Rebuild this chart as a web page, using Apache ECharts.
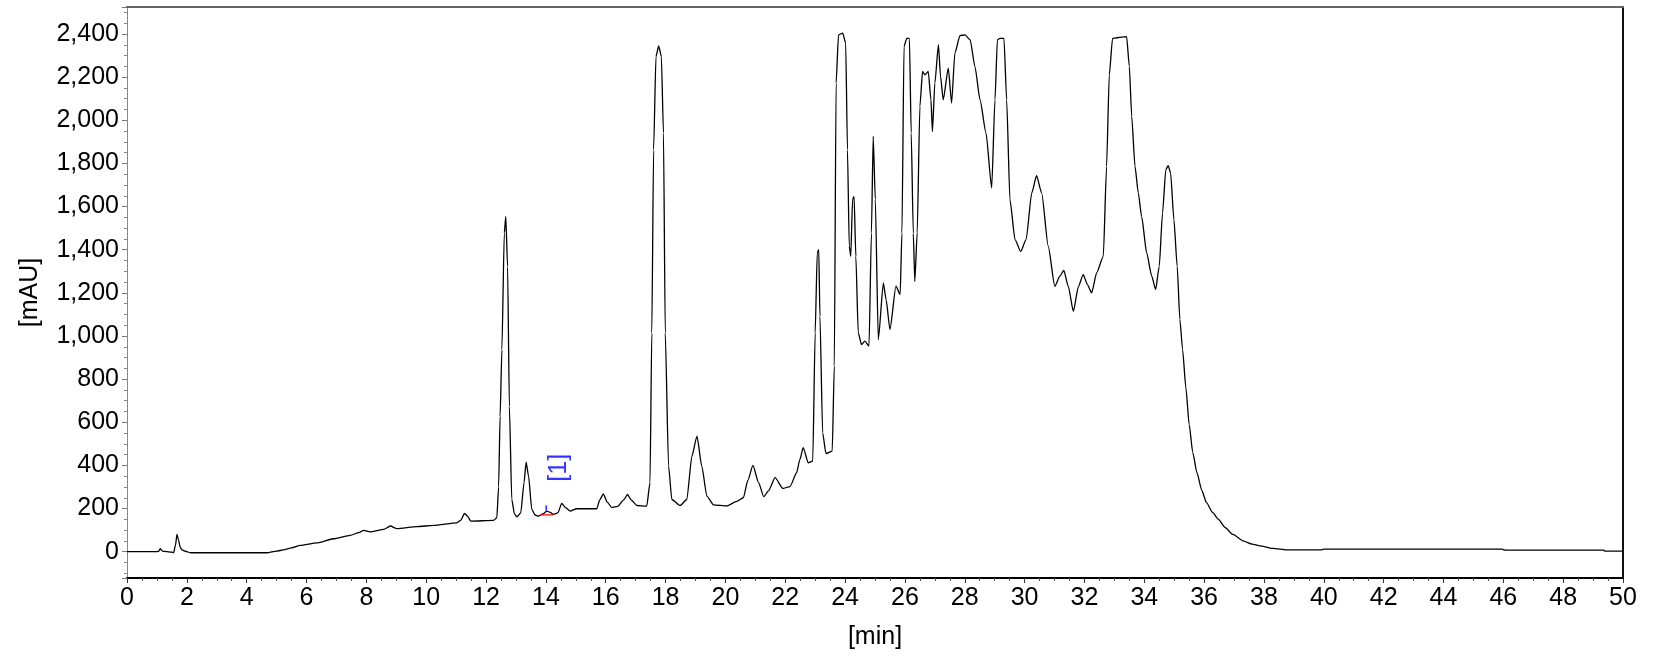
<!DOCTYPE html>
<html>
<head>
<meta charset="utf-8">
<script src="https://cdn.jsdelivr.net/npm/echarts@6/dist/echarts.min.js"></script>
<style>
html,body{margin:0;padding:0;background:#fff;}
#chart{width:1663px;height:660px;}
</style>
</head>
<body>
<div id="chart"></div>
<script>
// retention time [min]
const times = [0,0.5,1.0,1.06,1.11,1.18,1.5,1.56,1.62,1.67,1.72,1.78,1.84,1.95,2.12,3.0,4.0,4.68,5.0,5.23,5.5,5.79,6.35,6.9,7.46,7.75,7.91,8.13,8.58,8.8,9.02,9.69,10.24,11.03,11.15,11.28,11.38,11.49,12.25,12.36,12.42,12.47,12.53,12.61,12.66,12.72,12.78,12.86,12.95,13.03,13.16,13.27,13.34,13.42,13.53,13.64,13.75,13.9,14.03,14.15,14.25,14.4,14.53,14.65,14.81,15.03,15.7,15.8,15.92,16.05,16.2,16.4,16.6,16.73,16.85,17.04,17.37,17.48,17.54,17.6,17.68,17.77,17.86,17.93,17.99,18.1,18.21,18.49,18.71,18.88,19.05,19.21,19.38,19.6,20.05,20.38,20.6,20.75,20.92,21.11,21.28,21.44,21.66,21.92,22.16,22.38,22.49,22.6,22.77,22.92,23.0,23.07,23.12,23.16,23.25,23.36,23.57,23.64,23.7,23.78,23.92,24.02,24.08,24.14,24.19,24.25,24.3,24.36,24.44,24.55,24.66,24.8,24.88,24.94,25.01,25.11,25.28,25.37,25.5,25.7,25.84,25.9,25.97,26.06,26.15,26.21,26.28,26.33,26.41,26.5,26.59,26.67,26.78,26.87,26.92,27.0,27.12,27.19,27.28,27.45,27.56,27.67,27.84,28.01,28.18,28.34,28.51,28.71,28.9,29.01,29.09,29.18,29.31,29.4,29.51,29.68,29.87,30.05,30.24,30.4,30.57,30.79,31.01,31.18,31.31,31.46,31.63,31.8,31.96,32.1,32.24,32.41,32.63,32.74,32.83,32.94,33.41,33.5,33.58,33.69,33.8,33.91,34.08,34.25,34.38,34.5,34.61,34.72,34.8,34.88,34.99,35.1,35.19,35.28,35.39,35.5,35.62,35.76,35.92,36.08,36.28,36.48,36.7,36.96,37.32,37.6,37.92,38.3,38.76,39.9,40.0,45.96,46.05,49.35,49.4,50];
// absorbance [mAU]
const signal = [0,0,0,2,14,3,-2,-5,30,80,55,20,8,2,-5,-5,-5,-5,3,8,18,29,41,60,76,88,99,92,103,119,107,116,122,134,145,177,165,142,145,157,300,628,937,1477,1554,1322,674,242,175,162,180,320,415,351,196,170,165,175,188,182,173,180,224,205,188,199,199,240,268,230,205,210,240,265,240,214,211,320,1014,1863,2296,2345,2296,1941,1014,397,242,214,242,443,536,397,258,217,212,233,250,330,400,320,255,282,343,293,302,366,428,482,412,420,1014,1385,1400,1091,551,455,466,860,2172,2396,2404,2358,1863,1416,1369,1632,1647,1369,1014,960,976,953,1477,1925,1632,983,1246,1169,1030,1231,1192,1477,2342,2380,2380,1941,1477,1253,1477,2064,2226,2210,2226,2095,1948,2172,2350,2203,2095,2242,2080,2311,2392,2396,2373,2249,2095,1941,1686,2095,2373,2380,2380,2095,1632,1447,1392,1447,1663,1743,1663,1416,1230,1277,1304,1230,1114,1230,1284,1238,1200,1293,1369,1786,2210,2380,2388,2249,2018,1786,1663,1555,1385,1277,1215,1323,1570,1771,1790,1755,1539,1323,1076,937,760,590,460,366,285,227,182,150,112,80,49,35,26,15,8,8,12,12,7,7,3,3];
// integration baseline of peak [1] (red)
const baselineTimes = [13.81, 14.25];
const baselineValues = [171, 171];
// peak marker of peak [1] (blue)
const markerTimes = [14.01, 14.01];
const markerValues = [190, 214];
// peak label
const peakLabelText = ['[1]'];
const peakLabelTime = [14.43];
const peakLabelValue = [389];
// axis ticks
const xTickInterval = 2;
const yTickStep = 200;

const zip = (a, b) => a.map((x, i) => [x, b[i]]);
const FONT = 'Liberation Sans, Arial, sans-serif';

const chart = echarts.init(document.getElementById('chart'), null, {renderer: 'canvas'});
chart.setOption({
  animation: false,
  backgroundColor: '#ffffff',
  grid: {left: 127, right: 40, top: 7, bottom: 82},
  xAxis: [{
    type: 'value', min: 0, max: 50, interval: xTickInterval,
    name: '[min]', nameLocation: 'middle', nameGap: 47,
    nameTextStyle: {fontFamily: FONT, fontSize: 25, color: '#000'},
    axisLine: {show: true, onZero: false, lineStyle: {color: '#000', width: 2}},
    axisTick: {show: true, length: 5, lineStyle: {color: '#333', width: 1}},
    minorTick: {show: true, splitNumber: 4, length: 3, lineStyle: {color: '#555', width: 1}},
    axisLabel: {fontFamily: FONT, fontSize: 25, color: '#000', margin: 8},
    splitLine: {show: false}
  }, {
    type: 'value', min: 0, max: 50, position: 'top',
    axisLine: {show: true, onZero: false, lineStyle: {color: '#666', width: 2}},
    axisTick: {show: false}, axisLabel: {show: false}, splitLine: {show: false}
  }],
  yAxis: [{
    type: 'value', min: -122, max: 2525, splitNumber: 13,
    name: '[mAU]', nameLocation: 'middle', nameGap: 84, nameRotate: 90,
    nameTextStyle: {fontFamily: FONT, fontSize: 25, color: '#000'},
    axisLine: {show: true, onZero: false, lineStyle: {color: '#888', width: 1}},
    axisTick: {show: true, length: 5, lineStyle: {color: '#777', width: 1}},
    minorTick: {show: true, splitNumber: 4, length: 3, lineStyle: {color: '#888', width: 1}},
    axisLabel: {
      fontFamily: FONT, fontSize: 25, color: '#000', margin: 8,
      formatter: v => (Math.abs(v % yTickStep) < 1e-6 ? v.toLocaleString('en-US') : '')
    },
    splitLine: {show: false}
  }, {
    type: 'value', min: -122, max: 2525, position: 'right',
    axisLine: {show: true, onZero: false, lineStyle: {color: '#111', width: 2}},
    axisTick: {show: false}, axisLabel: {show: false}, splitLine: {show: false}
  }],
  series: [{
    type: 'line', data: zip(times, signal), showSymbol: false, symbol: 'none',
    smooth: 0.2, smoothMonotone: 'x',
    lineStyle: {color: '#000', width: 1.3}, z: 3
  }, {
    type: 'line', data: zip(baselineTimes, baselineValues), symbol: 'none',
    lineStyle: {color: '#ff0000', width: 1.3}, z: 4
  }, {
    type: 'line', data: zip(markerTimes, markerValues), symbol: 'none',
    lineStyle: {color: '#0000ff', width: 1.3}, z: 4
  }, {
    type: 'scatter', data: zip(peakLabelTime, peakLabelValue), symbolSize: 0,
    label: {
      show: true, position: 'inside', rotate: 90,
      formatter: p => peakLabelText[p.dataIndex],
      fontFamily: FONT, fontSize: 25, color: '#0000ff'
    }, z: 5
  }]
});
</script>
</body>
</html>
